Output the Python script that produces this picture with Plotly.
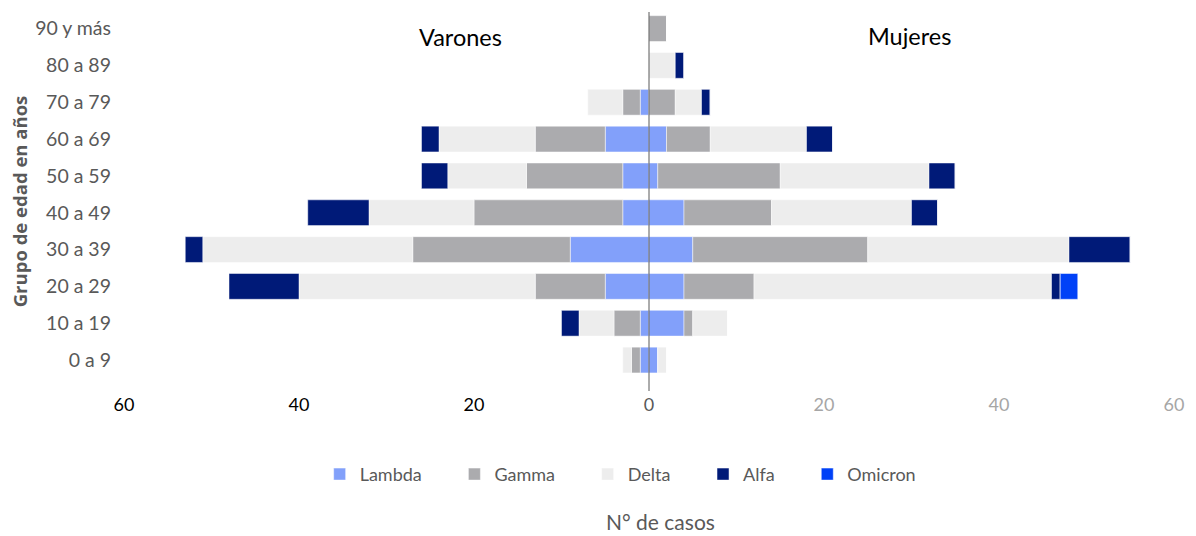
import plotly.graph_objects as go

# Age groups, bottom to top
grupos = ["0 a 9", "10 a 19", "20 a 29", "30 a 39", "40 a 49",
          "50 a 59", "60 a 69", "70 a 79", "80 a 89", "90 y más"]

# Cases by variant — men (Varones)
varones_lambda = [1, 1, 5, 9, 3, 3, 5, 1, 0, 0]
varones_gamma = [1, 3, 8, 18, 17, 11, 8, 2, 0, 0]
varones_delta = [1, 4, 27, 24, 12, 9, 11, 4, 0, 0]
varones_alfa = [0, 2, 8, 2, 7, 3, 2, 0, 0, 0]
varones_omicron = [0, 0, 0, 0, 0, 0, 0, 0, 0, 0]

# Cases by variant — women (Mujeres)
mujeres_lambda = [1, 4, 4, 5, 4, 1, 2, 0, 0, 0]
mujeres_gamma = [0, 1, 8, 20, 10, 14, 5, 3, 0, 2]
mujeres_delta = [1, 4, 34, 23, 16, 17, 11, 3, 3, 0]
mujeres_alfa = [0, 0, 1, 7, 3, 3, 3, 1, 1, 0]
mujeres_omicron = [0, 0, 2, 0, 0, 0, 0, 0, 0, 0]

variantes = ["Lambda", "Gamma", "Delta", "Alfa", "Omicron"]
colores = ["#82A0FA", "#ABABAE", "#EDEDED", "#001A78", "#0041F7"]

varones = [varones_lambda, varones_gamma, varones_delta, varones_alfa, varones_omicron]
mujeres = [mujeres_lambda, mujeres_gamma, mujeres_delta, mujeres_alfa, mujeres_omicron]

x_ticks = [-60, -40, -20, 0, 20, 40, 60]

# Extra padding after each legend label (non-breaking spaces) to widen entry spacing
PAD = "\u00a0" * 6

fig = go.Figure()
for i, (nombre, color, v, m) in enumerate(zip(variantes, colores, varones, mujeres)):
    etiqueta = nombre + (PAD if i < len(variantes) - 1 else "")
    fig.add_trace(go.Bar(
        y=grupos, x=[-a for a in v], orientation="h", name=etiqueta,
        legendgroup=nombre, showlegend=False,
        marker=dict(color=color, line=dict(color="rgba(255,255,255,0.6)", width=0.8)),
        customdata=v, hovertemplate="Varones %{y}: %{customdata}<extra>" + nombre + "</extra>",
    ))
    fig.add_trace(go.Bar(
        y=grupos, x=m, orientation="h", name=etiqueta,
        legendgroup=nombre, showlegend=True,
        marker=dict(color=color, line=dict(color="rgba(255,255,255,0.6)", width=0.8)),
        hovertemplate="Mujeres %{y}: %{x}<extra>" + nombre + "</extra>",
    ))

# Men's side labels in black, women's side in light grey
tick_text = []
for t in x_ticks:
    if t < 0:
        tick_text.append(f'<span style="color:#000000">{abs(t)}</span>')
    elif t == 0:
        tick_text.append('<span style="color:#595959">0</span>')
    else:
        tick_text.append(f'<span style="color:#A6A6A6">{t}</span>')

fig.update_layout(
    barmode="relative",
    bargap=0.3,
    width=1196, height=536,
    margin=dict(l=124, r=22, t=12, b=145, autoexpand=False),
    plot_bgcolor="white", paper_bgcolor="white",
    font=dict(family="Lato, Open Sans, sans-serif", size=16, color="#595959"),
    xaxis=dict(
        range=[-60, 60], tickvals=x_ticks, ticktext=tick_text,
        showgrid=False, zeroline=False, showline=False, ticks="",
        tickfont=dict(size=18), ticklabelstandoff=1,
    ),
    yaxis=dict(
        range=[-0.84, 9.45], showgrid=False, zeroline=False, showline=False,
        ticks="", tickfont=dict(size=19.5, color="#595959"), ticklabelstandoff=12,
        title=dict(text="<b>Grupo de edad en años</b>",
                   font=dict(size=18.5, color="#595959", family="Open Sans, sans-serif"),
                   standoff=2),
    ),
    legend=dict(
        orientation="h", x=0.473, xanchor="center", y=-0.22, yanchor="middle",
        font=dict(size=18, color="#595959"), itemwidth=30,
        traceorder="normal",
    ),
    shapes=[dict(type="line", xref="x", yref="paper", x0=0, x1=0, y0=0, y1=1,
                 line=dict(color="#595959", width=1), layer="above")],
    annotations=[
        dict(text="Varones", x=-21.6, y=8.76, xref="x", yref="y", showarrow=False,
             font=dict(size=23.5, color="#000000", family="Lato, sans-serif")),
        dict(text="Mujeres", x=29.8, y=8.81, xref="x", yref="y", showarrow=False,
             font=dict(size=23.5, color="#000000", family="Lato, sans-serif")),
        dict(text="N° de casos", x=(660 - 124) / 1050, y=(391 - 521) / 379,
             xref="paper", yref="paper", yanchor="middle",
             showarrow=False, font=dict(size=21, color="#595959")),
    ],
)

fig.write_html("out.html")
